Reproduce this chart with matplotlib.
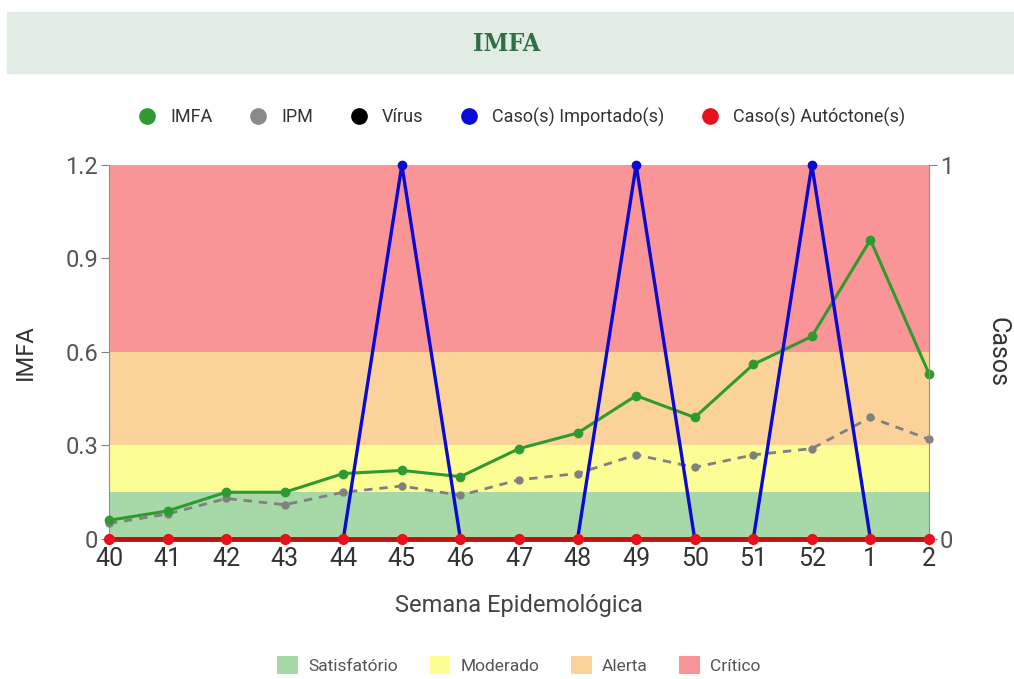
import numpy as np
import matplotlib.pyplot as plt
from matplotlib.lines import Line2D
from matplotlib.patches import Patch

plt.rcParams['font.family'] = ['Roboto', 'DejaVu Sans']

weeks = ['40', '41', '42', '43', '44', '45', '46', '47', '48', '49', '50', '51', '52', '1', '2']
imfa = [0.06, 0.09, 0.15, 0.15, 0.21, 0.22, 0.20, 0.29, 0.34, 0.46, 0.39, 0.56, 0.65, 0.96, 0.53]
ipm = [0.05, 0.08, 0.13, 0.11, 0.15, 0.17, 0.14, 0.19, 0.21, 0.27, 0.23, 0.27, 0.29, 0.39, 0.32]
importados = [0, 0, 0, 0, 0, 1, 0, 0, 0, 1, 0, 0, 1, 0, 0]
autoctones = [0] * 15

band_names = ['Satisfatório', 'Moderado', 'Alerta', 'Crítico']
band_limits = [0, 0.15, 0.3, 0.6, 1.2]
band_colors = ['#a6d8a8', '#fdfd96', '#fbd39a', '#f99596']

x = np.arange(len(weeks))

fig = plt.figure(figsize=(10.14, 6.79), dpi=100)

# header strip
fig.patches.append(plt.Rectangle((7/1014, 1-73/679), 1, 61/679, transform=fig.transFigure,
                                 color='#e1ece4', zorder=0))
fig.text(0.5, 1-44/679, 'IMFA', ha='center', va='center', fontsize=18, fontweight='bold',
         family='DejaVu Serif', stretch='condensed', color='#2f6f47')

ax = fig.add_axes([109/1014, 1-539/679, 820/1014, 374/679])
for i in range(4):
    ax.axhspan(band_limits[i], band_limits[i+1], color=band_colors[i], lw=0, zorder=0)

ax.plot(x, ipm, color='#808080', ls=(0, (3, 2.5)), lw=2, marker='o', ms=5, zorder=3, clip_on=False)
ax.plot(x, imfa, color='#2f9a2f', lw=2.2, marker='o', ms=6, zorder=4, clip_on=False)

ax.set_xlim(0, len(weeks) - 1)
ax.set_ylim(0, 1.2)
ax.set_yticks([0, 0.3, 0.6, 0.9, 1.2])
ax.set_yticklabels(['0', '0.3', '0.6', '0.9', '1.2'])
ax.set_xticks(x)
ax.set_xticklabels(weeks)
ax.tick_params(axis='y', labelsize=17, colors='#808080', labelcolor='#555555', length=6, pad=2)
ax.tick_params(axis='x', labelsize=18, colors='#cccccc', labelcolor='#333333', length=4, pad=2)
for s in ['top', 'bottom']:
    ax.spines[s].set_visible(False)
ax.spines['left'].set_color('#909090')
ax.spines['right'].set_visible(False)
ax.set_ylabel('IMFA', fontsize=17, color='#333333', labelpad=20)
ax.set_xlabel('Semana Epidemológica', fontsize=17, color='#444444', labelpad=16)

ax2 = ax.twinx()
ax2.set_ylim(0, 1)
ax2.plot(x, importados, color='#0a0ad0', lw=2.4, marker='o', ms=6, zorder=5, clip_on=False)
ax2.plot(x, autoctones, color='#c01010', lw=3.5, marker='o', ms=7, mfc='#e8101a', mec='#e8101a',
         zorder=6, clip_on=False)
ax2.set_yticks([0, 1])
ax2.set_yticklabels(['0', '1'])
ax2.tick_params(axis='y', labelsize=17, colors='#808080', labelcolor='#555555', length=6, pad=2)
for s in ['top', 'bottom', 'left']:
    ax2.spines[s].set_visible(False)
ax2.spines['right'].set_color('#909090')
ax2.set_ylabel('Casos', fontsize=18, color='#333333', rotation=270, labelpad=40)

series_handles = [Line2D([], [], ls='', marker='o', ms=11, color=c) for c in
                  ['#2f9a2f', '#8a8a8a', '#000000', '#0a0ad8', '#e8101a']]
series_labels = ['IMFA', 'IPM', 'Vírus', 'Caso(s) Importado(s)', 'Caso(s) Autóctone(s)']
fig.legend(series_handles, series_labels, loc='center', bbox_to_anchor=(0.51, 1-117/679), ncol=5,
           frameon=False, fontsize=13, handletextpad=0.3, columnspacing=1.5, labelcolor='#333333')

band_handles = [Patch(color=c, lw=0) for c in band_colors]
fig.legend(band_handles, band_names, loc='center', bbox_to_anchor=(0.512, 1-665/679), ncol=4,
           frameon=False, fontsize=12.5, handlelength=1.2, handleheight=1.3, handletextpad=0.6,
           columnspacing=1.8, labelcolor='#555555')

fig.savefig('out.png', dpi=100)
